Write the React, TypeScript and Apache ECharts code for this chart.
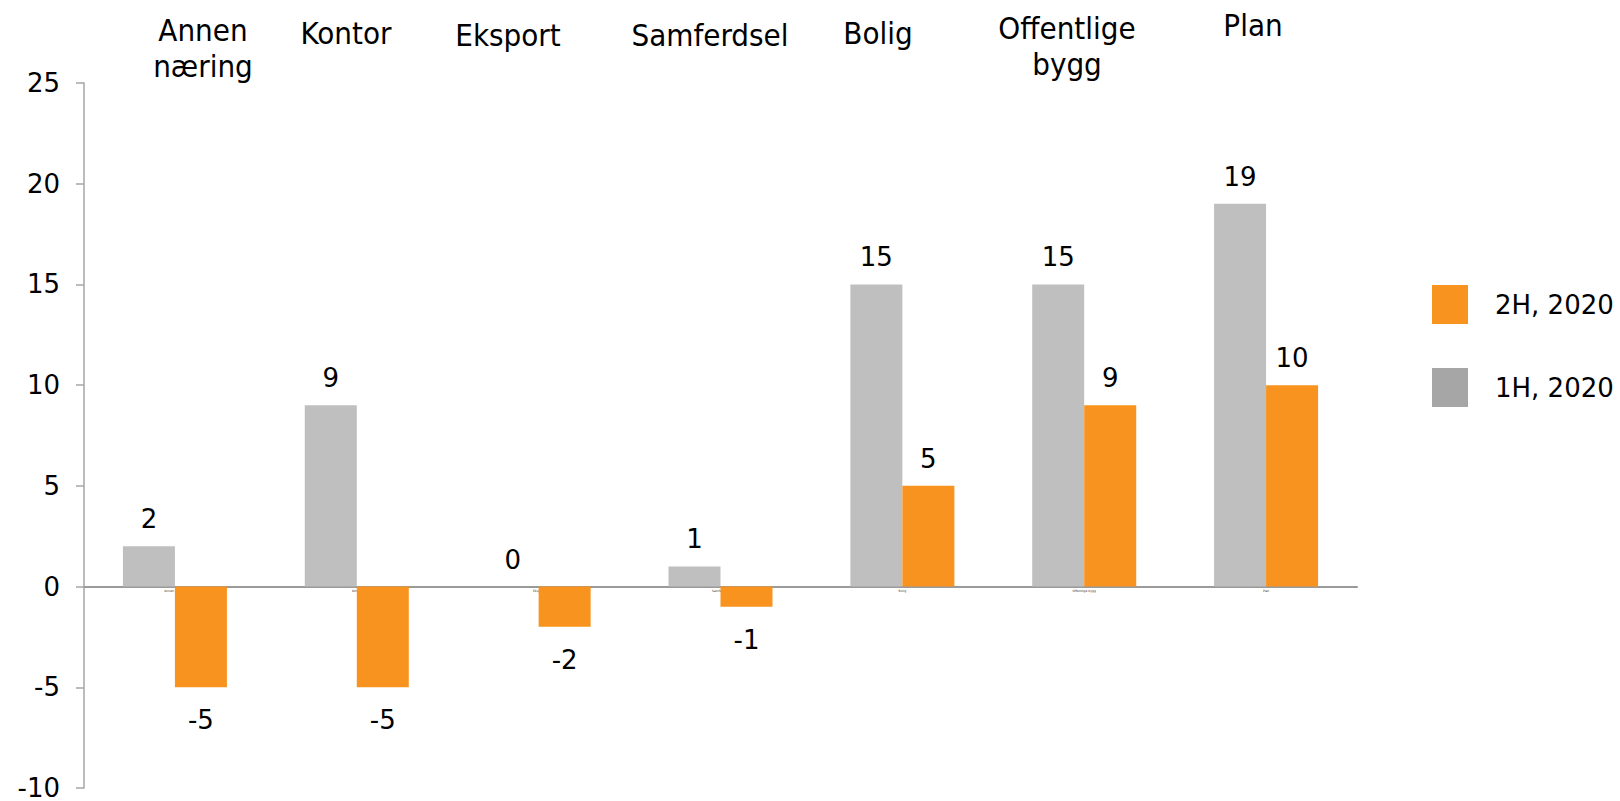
import React, { useEffect, useRef } from "react";
import * as echarts from "echarts";

const categories = ["Annen næring", "Kontor", "Eksport", "Samferdsel", "Bolig", "Offentlige bygg", "Plan"];
const topLabels = ["Annen\nnæring", "Kontor", "Eksport", "Samferdsel", "Bolig", "Offentlige\nbygg", "Plan"];
const series1H = [2, 9, 0, 1, 15, 15, 19];
const series2H = [-5, -5, -2, -1, 5, 9, 10];
const legendNames = ["2H, 2020", "1H, 2020"];
const yTicks = { min: -10, max: 25, interval: 5 };

// layout for top labels (center x, top y of first line)
const topLabelPos: [number, number][] = [
  [203, 12],
  [346, 15],
  [508, 17],
  [710, 17],
  [878, 15],
  [1067, 10],
  [1253, 7],
];

const GRAY = "#BFBFBF";
const ORANGE = "#F7931E";
const FONT = "'DejaVu Sans', Verdana, sans-serif";

function barData(values: number[]) {
  return values.map((v) => ({
    value: v,
    label: v < 0 ? { position: "bottom", distance: 20 } : { position: "top", distance: 14 },
  }));
}

export default function App() {
  const ref = useRef<HTMLDivElement>(null);
  useEffect(() => {
    if (!ref.current) return;
    const chart = echarts.init(ref.current, null, { renderer: "svg" });
    const labelStyle = {
      show: true,
      fontFamily: FONT,
      fontSize: 26,
      color: "#000",
    };
    chart.setOption({
      animation: false,
      textStyle: { fontFamily: FONT },
      grid: { left: 84, right: 263, top: 83, bottom: 10, containLabel: false },
      legend: {
        orient: "vertical",
        left: 1427,
        top: 280,
        itemWidth: 36,
        itemHeight: 39,
        itemGap: 44,
        icon: "rect",
        textStyle: { fontFamily: FONT, fontSize: 26, color: "#000", padding: [0, 0, 0, 22] },
        data: [
          { name: legendNames[0], itemStyle: { color: ORANGE } },
          { name: legendNames[1], itemStyle: { color: "#A6A6A6" } },
        ],
        selectedMode: false,
      },
      xAxis: {
        type: "category",
        data: categories,
        axisLine: { show: true, onZero: true, lineStyle: { color: "#9A9A9A", width: 2 } },
        axisTick: { show: false },
        axisLabel: { fontSize: 3, color: "#333", margin: -199, interval: 0 },
      },
      yAxis: {
        type: "value",
        min: yTicks.min,
        max: yTicks.max,
        interval: yTicks.interval,
        splitLine: { show: false },
        axisLine: { show: true, lineStyle: { color: "#A6A6A6", width: 1.5 } },
        axisTick: { show: true, length: 8, lineStyle: { color: "#A6A6A6", width: 1.5 } },
        axisLabel: { fontFamily: FONT, fontSize: 26, color: "#000", margin: 24 },
      },
      series: [
        {
          name: legendNames[1],
          type: "bar",
          data: barData(series1H),
          barWidth: 52,
          barGap: "0%",
          itemStyle: { color: GRAY },
          label: labelStyle,
        },
        {
          name: legendNames[0],
          type: "bar",
          data: barData(series2H),
          barWidth: 52,
          barGap: "0%",
          itemStyle: { color: ORANGE },
          label: labelStyle,
        },
      ],
      graphic: topLabels.map((t, i) => ({
        type: "text",
        x: topLabelPos[i][0],
        y: topLabelPos[i][1],
        style: {
          text: t,
          fontFamily: "'DejaVu Sans Condensed', 'DejaVu Sans', sans-serif",
          fontSize: 31,
          lineHeight: 36,
          fill: "#000",
          align: "center",
          verticalAlign: "top",
        },
      })),
    });
    return () => chart.dispose();
  }, []);
  return (
    <div
      ref={ref}
      style={{ position: "absolute", left: 0, top: 0, width: 1620, height: 801 }}
    />
  );
}
